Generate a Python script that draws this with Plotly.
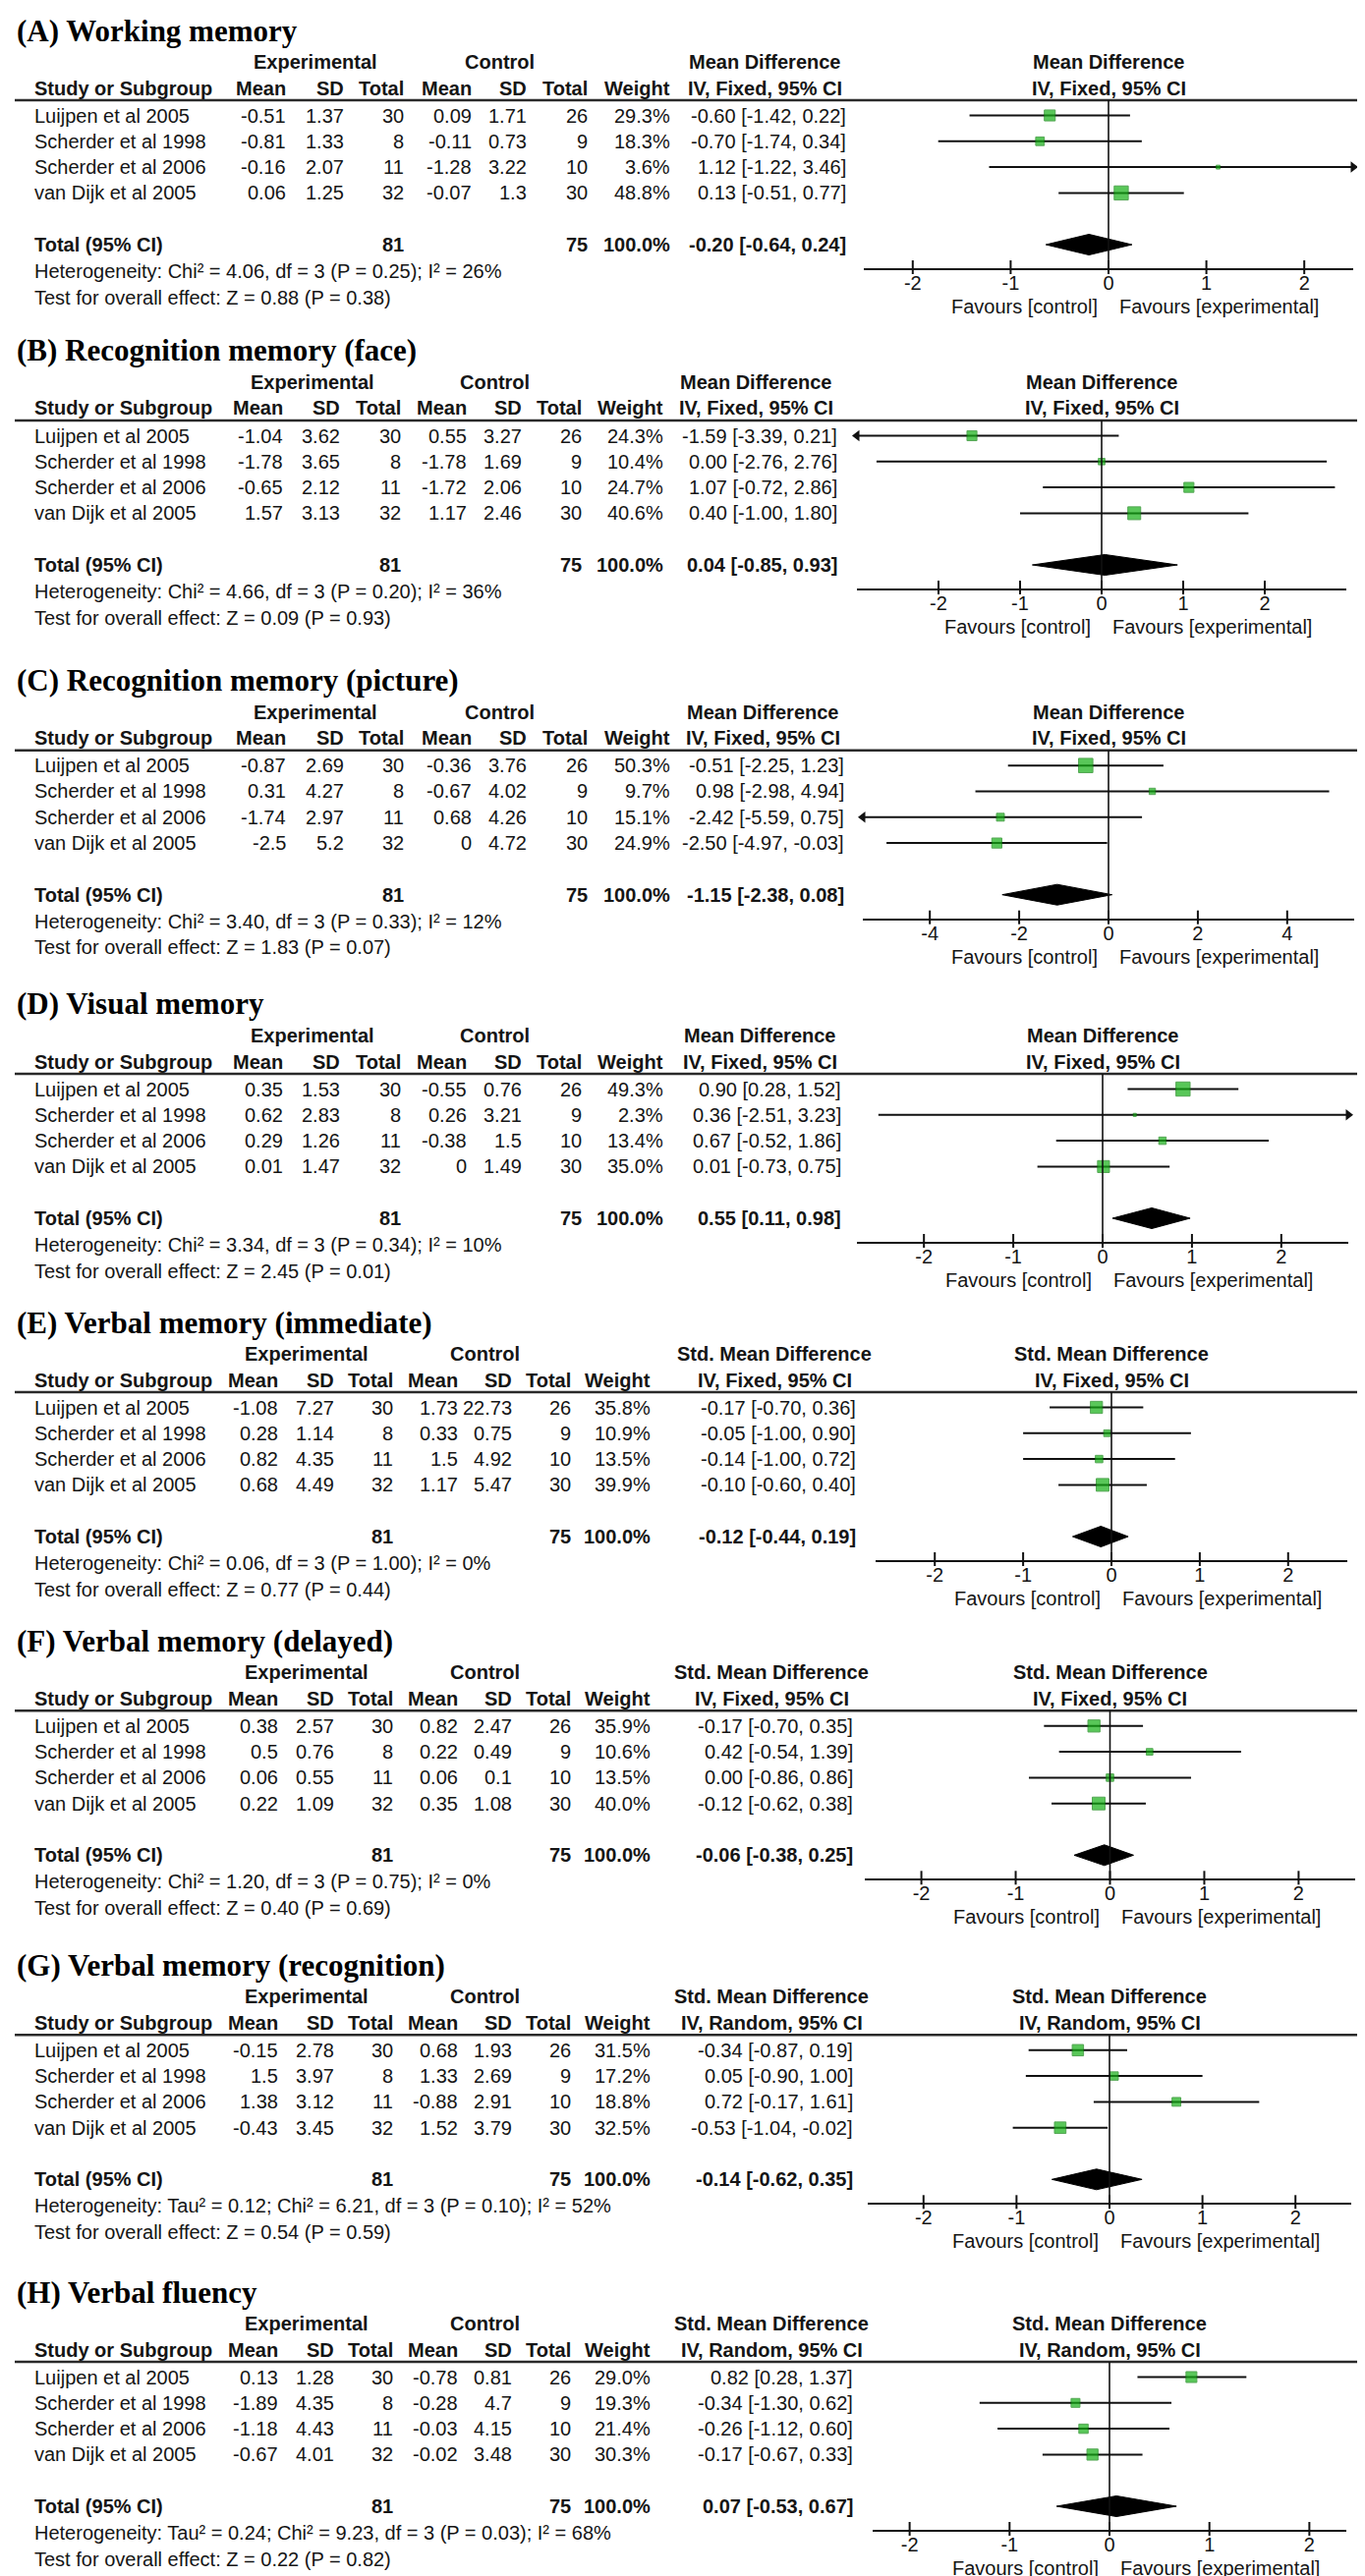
import math
import plotly.graph_objects as go

W, H = 1389, 2622

# ---------------- data ----------------
panel_letters = ["A", "B", "C", "D", "E", "F", "G", "H"]
panel_titles = ["Working memory", "Recognition memory (face)", "Recognition memory (picture)",
                "Visual memory", "Verbal memory (immediate)", "Verbal memory (delayed)",
                "Verbal memory (recognition)", "Verbal fluency"]
effect_labels = ["Mean Difference"] * 4 + ["Std. Mean Difference"] * 4
method_labels = ["IV, Fixed, 95% CI"] * 6 + ["IV, Random, 95% CI"] * 2

studies = ["Luijpen et al 2005", "Scherder et al 1998", "Scherder et al 2006", "van Dijk et al 2005"]
exp_n = [30, 8, 11, 32]
ctl_n = [26, 9, 10, 30]
exp_total = 81
ctl_total = 75

exp_mean = [[-0.51, -0.81, -0.16, 0.06], [-1.04, -1.78, -0.65, 1.57], [-0.87, 0.31, -1.74, -2.5],
            [0.35, 0.62, 0.29, 0.01], [-1.08, 0.28, 0.82, 0.68], [0.38, 0.5, 0.06, 0.22],
            [-0.15, 1.5, 1.38, -0.43], [0.13, -1.89, -1.18, -0.67]]
exp_sd = [[1.37, 1.33, 2.07, 1.25], [3.62, 3.65, 2.12, 3.13], [2.69, 4.27, 2.97, 5.2],
          [1.53, 2.83, 1.26, 1.47], [7.27, 1.14, 4.35, 4.49], [2.57, 0.76, 0.55, 1.09],
          [2.78, 3.97, 3.12, 3.45], [1.28, 4.35, 4.43, 4.01]]
ctl_mean = [[0.09, -0.11, -1.28, -0.07], [0.55, -1.78, -1.72, 1.17], [-0.36, -0.67, 0.68, 0],
            [-0.55, 0.26, -0.38, 0], [1.73, 0.33, 1.5, 1.17], [0.82, 0.22, 0.06, 0.35],
            [0.68, 1.33, -0.88, 1.52], [-0.78, -0.28, -0.03, -0.02]]
ctl_sd = [[1.71, 0.73, 3.22, 1.3], [3.27, 1.69, 2.06, 2.46], [3.76, 4.02, 4.26, 4.72],
          [0.76, 3.21, 1.5, 1.49], [22.73, 0.75, 4.92, 5.47], [2.47, 0.49, 0.1, 1.08],
          [1.93, 2.69, 2.91, 3.79], [0.81, 4.7, 4.15, 3.48]]
weights = [[29.3, 18.3, 3.6, 48.8], [24.3, 10.4, 24.7, 40.6], [50.3, 9.7, 15.1, 24.9],
           [49.3, 2.3, 13.4, 35.0], [35.8, 10.9, 13.5, 39.9], [35.9, 10.6, 13.5, 40.0],
           [31.5, 17.2, 18.8, 32.5], [29.0, 19.3, 21.4, 30.3]]
effect = [[-0.60, -0.70, 1.12, 0.13], [-1.59, 0.00, 1.07, 0.40], [-0.51, 0.98, -2.42, -2.50],
          [0.90, 0.36, 0.67, 0.01], [-0.17, -0.05, -0.14, -0.10], [-0.17, 0.42, 0.00, -0.12],
          [-0.34, 0.05, 0.72, -0.53], [0.82, -0.34, -0.26, -0.17]]
ci_low = [[-1.42, -1.74, -1.22, -0.51], [-3.39, -2.76, -0.72, -1.00], [-2.25, -2.98, -5.59, -4.97],
          [0.28, -2.51, -0.52, -0.73], [-0.70, -1.00, -1.00, -0.60], [-0.70, -0.54, -0.86, -0.62],
          [-0.87, -0.90, -0.17, -1.04], [0.28, -1.30, -1.12, -0.67]]
ci_high = [[0.22, 0.34, 3.46, 0.77], [0.21, 2.76, 2.86, 1.80], [1.23, 4.94, 0.75, -0.03],
           [1.52, 3.23, 1.86, 0.75], [0.36, 0.90, 0.72, 0.40], [0.35, 1.39, 0.86, 0.38],
           [0.19, 1.00, 1.61, -0.02], [1.37, 0.62, 0.60, 0.33]]
total_effect = [-0.20, 0.04, -1.15, 0.55, -0.12, -0.06, -0.14, 0.07]
total_low = [-0.64, -0.85, -2.38, 0.11, -0.44, -0.38, -0.62, -0.53]
total_high = [0.24, 0.93, 0.08, 0.98, 0.19, 0.25, 0.35, 0.67]
het_tau2 = [None, None, None, None, None, None, 0.12, 0.24]
het_chi2 = [4.06, 4.66, 3.40, 3.34, 0.06, 1.20, 6.21, 9.23]
het_p = [0.25, 0.20, 0.33, 0.34, 1.00, 0.75, 0.10, 0.03]
het_i2 = [26, 36, 12, 10, 0, 0, 52, 68]
z_val = [0.88, 0.09, 1.83, 2.45, 0.77, 0.40, 0.54, 0.22]
z_p = [0.38, 0.93, 0.07, 0.01, 0.44, 0.69, 0.59, 0.82]
tick_values = [[-2, -1, 0, 1, 2], [-2, -1, 0, 1, 2], [-4, -2, 0, 2, 4], [-2, -1, 0, 1, 2],
               [-2, -1, 0, 1, 2], [-2, -1, 0, 1, 2], [-2, -1, 0, 1, 2], [-2, -1, 0, 1, 2]]
axis_half_range = [2.5, 3.0, 5.5, 2.75, 2.67, 2.6, 2.6, 2.37]

# ---------------- layout constants (pixels) ----------------
header_line_y = [94, 420, 755.7, 1085, 1409, 1733.3, 2063.3, 2396]
plot_left = [871, 864, 870, 864, 883, 872, 875, 880]
plot_right = [1369, 1362, 1370, 1364, 1363, 1371, 1367, 1362]
col_scale = [1.0, 0.99, 1.0, 0.99, 0.97, 0.97, 0.97, 0.97]
md_right = [855, 846, 853, 850, 865, 862, 862, 862]
TOP_PAD, ROW_H, PLOT_H = 15.5, 26.3, 171
TOTAL_ROW = 5

SANS = "Liberation Sans, Arial, sans-serif"
SERIF = "Liberation Serif, Times New Roman, serif"
TXT = "#151515"
GREEN = "#14b014"
GREEN_EDGE = "#0c820c"

BASE_COLS = dict(study=24.5, em=284.5, esd=343.5, en=405.5, cm=473.5, csd=530, cn=592, wt=676,
                 exp_c=312.5, ctl_c=500)


def fmt(v):
    return f"{v:g}"


def ann(text, xpx, ypx, anchor="left", size=20, bold=False, family=SANS, color=TXT):
    return dict(text=f"<b>{text}</b>" if bold else text, x=xpx / W, y=1 - ypx / H,
                xref="paper", yref="paper", xanchor=anchor, yanchor="middle",
                showarrow=False, font=dict(size=size, family=family, color=color))


fig = go.Figure()
annotations = []
shapes = []
layout_axes = {}

for p in range(8):
    n = p + 1
    sfx = "" if n == 1 else str(n)
    xa, ya = f"x{sfx}", f"y{sfx}"
    L = header_line_y[p]
    s = col_scale[p]
    cols = {k: BASE_COLS["study"] + (v - BASE_COLS["study"]) * s for k, v in BASE_COLS.items()}
    R = axis_half_range[p]

    def row_px(i):
        return L + TOP_PAD + i * ROW_H

    # ----- axes -----
    layout_axes[f"xaxis{sfx}"] = dict(
        domain=[plot_left[p] / W, plot_right[p] / W], range=[-R, R], anchor=ya,
        showgrid=False, zeroline=False, showline=True, linecolor="#111", linewidth=2.2,
        ticks="", ticklabelstandoff=-4,
        tickvals=tick_values[p], ticktext=[str(t) for t in tick_values[p]],
        tickfont=dict(size=20, family=SANS, color=TXT), fixedrange=True)
    layout_axes[f"yaxis{sfx}"] = dict(
        domain=[1 - (L + PLOT_H) / H, 1 - L / H],
        range=[(PLOT_H - TOP_PAD) / ROW_H, -TOP_PAD / ROW_H],
        visible=False, anchor=xa, fixedrange=True)

    rows = list(range(len(studies)))

    # ----- CI lines -----
    lx, ly = [], []
    for i in rows:
        lx += [ci_low[p][i], ci_high[p][i], None]
        ly += [i, i, None]
    fig.add_trace(go.Scatter(x=lx, y=ly, mode="lines", line=dict(color="#111", width=2),
                             xaxis=xa, yaxis=ya, hoverinfo="skip", showlegend=False))
    # ----- arrows for truncated CIs -----
    ax_x, ax_y, ax_sym = [], [], []
    for i in rows:
        if ci_high[p][i] > R:
            ax_x.append(R); ax_y.append(i); ax_sym.append("triangle-right")
        if ci_low[p][i] < -R:
            ax_x.append(-R); ax_y.append(i); ax_sym.append("triangle-left")
    if ax_x:
        fig.add_trace(go.Scatter(x=ax_x, y=ax_y, mode="markers", cliponaxis=False,
                                 marker=dict(symbol=ax_sym, size=10, color="#111"),
                                 xaxis=xa, yaxis=ya, hoverinfo="skip", showlegend=False))
    # ----- study squares -----
    fig.add_trace(go.Scatter(
        x=effect[p], y=rows, mode="markers",
        marker=dict(symbol="square", size=[2.05 * math.sqrt(w) for w in weights[p]],
                    color=GREEN, line=dict(color=GREEN_EDGE, width=1)),
        xaxis=xa, yaxis=ya, hoverinfo="skip", showlegend=False))
    # ----- diamond -----
    dh = 0.4
    fig.add_trace(go.Scatter(
        x=[total_low[p], total_effect[p], total_high[p], total_effect[p], total_low[p]],
        y=[TOTAL_ROW, TOTAL_ROW - dh, TOTAL_ROW, TOTAL_ROW + dh, TOTAL_ROW],
        mode="lines", fill="toself", fillcolor="#000", line=dict(color="#000", width=1),
        xaxis=xa, yaxis=ya, hoverinfo="skip", showlegend=False))

    # ----- shapes -----
    shapes.append(dict(type="line", xref="paper", yref="paper", x0=7 / W, x1=1386 / W,
                       y0=1 - L / H, y1=1 - L / H, line=dict(color="#2a2a2a", width=2.5)))
    shapes.append(dict(type="line", xref=xa, yref=f"{ya} domain", x0=0, x1=0, y0=0, y1=1,
                       line=dict(color="#111", width=1.6)))
    for t in tick_values[p]:
        shapes.append(dict(type="line", xref=xa, yref=f"{ya} domain", x0=t, x1=t,
                           y0=-6 / PLOT_H, y1=8 / PLOT_H, line=dict(color="#111", width=2)))

    # ----- text -----
    annotations.append(ann(f"({panel_letters[p]}) {panel_titles[p]}", 7, L - 71, size=31,
                           bold=True, family=SERIF, color="#000"))
    annotations.append(ann("Experimental", cols["exp_c"], L - 39, "center", bold=True))
    annotations.append(ann("Control", cols["ctl_c"], L - 39, "center", bold=True))
    hdr_c = md_right[p] - 85
    annotations.append(ann(effect_labels[p], hdr_c, L - 39, "center", bold=True))
    annotations.append(ann(method_labels[p], hdr_c, L - 12.5, "center", bold=True))
    annotations.append(ann("Study or Subgroup", cols["study"], L - 12.5, "left", bold=True))
    for key, lab in [("em", "Mean"), ("esd", "SD"), ("en", "Total"), ("cm", "Mean"),
                     ("csd", "SD"), ("cn", "Total"), ("wt", "Weight")]:
        annotations.append(ann(lab, cols[key], L - 12.5, "right", bold=True))
    # forest header
    for txt, dy in [(effect_labels[p], -39), (method_labels[p], -12.5)]:
        annotations.append(dict(text=f"<b>{txt}</b>", x=0.5, xref=f"{xa} domain",
                                y=1 - (L + dy) / H, yref="paper", xanchor="center",
                                yanchor="middle", showarrow=False,
                                font=dict(size=20, family=SANS, color=TXT)))
    for i in rows:
        y = row_px(i)
        annotations.append(ann(studies[i], cols["study"], y))
        annotations.append(ann(fmt(exp_mean[p][i]), cols["em"], y, "right"))
        annotations.append(ann(fmt(exp_sd[p][i]), cols["esd"], y, "right"))
        annotations.append(ann(str(exp_n[i]), cols["en"], y, "right"))
        annotations.append(ann(fmt(ctl_mean[p][i]), cols["cm"], y, "right"))
        annotations.append(ann(fmt(ctl_sd[p][i]), cols["csd"], y, "right"))
        annotations.append(ann(str(ctl_n[i]), cols["cn"], y, "right"))
        annotations.append(ann(f"{weights[p][i]:.1f}%", cols["wt"], y, "right"))
        annotations.append(ann(f"{effect[p][i]:.2f} [{ci_low[p][i]:.2f}, {ci_high[p][i]:.2f}]",
                               md_right[p], y, "right"))
    yt = row_px(TOTAL_ROW)
    annotations.append(ann("Total (95% CI)", cols["study"], yt, bold=True))
    annotations.append(ann(str(exp_total), cols["en"], yt, "right", bold=True))
    annotations.append(ann(str(ctl_total), cols["cn"], yt, "right", bold=True))
    annotations.append(ann("100.0%", cols["wt"], yt, "right", bold=True))
    annotations.append(ann(f"{total_effect[p]:.2f} [{total_low[p]:.2f}, {total_high[p]:.2f}]",
                           md_right[p], yt, "right", bold=True))
    tau = f"Tau² = {het_tau2[p]:.2f}; " if het_tau2[p] is not None else ""
    het = (f"Heterogeneity: {tau}Chi² = {het_chi2[p]:.2f}, df = 3 (P = {het_p[p]:.2f}); "
           f"I² = {het_i2[p]}%")
    annotations.append(ann(het, cols["study"], L + 174))
    annotations.append(ann(f"Test for overall effect: Z = {z_val[p]:.2f} (P = {z_p[p]:.2f})",
                           cols["study"], L + 200.5))
    # favours labels
    for txt, anc, sh in [("Favours [control]", "right", -9), ("Favours [experimental]", "left", 9)]:
        annotations.append(dict(text=txt, x=0, xref=xa, xshift=sh, y=1 - (L + 210) / H,
                                yref="paper", xanchor=anc, yanchor="middle", showarrow=False,
                                font=dict(size=20, family=SANS, color=TXT)))

fig.update_layout(width=W, height=H, margin=dict(l=0, r=0, t=0, b=0),
                  paper_bgcolor="white", plot_bgcolor="white", showlegend=False,
                  annotations=annotations, shapes=shapes, **layout_axes)
fig.write_html("out.html")
